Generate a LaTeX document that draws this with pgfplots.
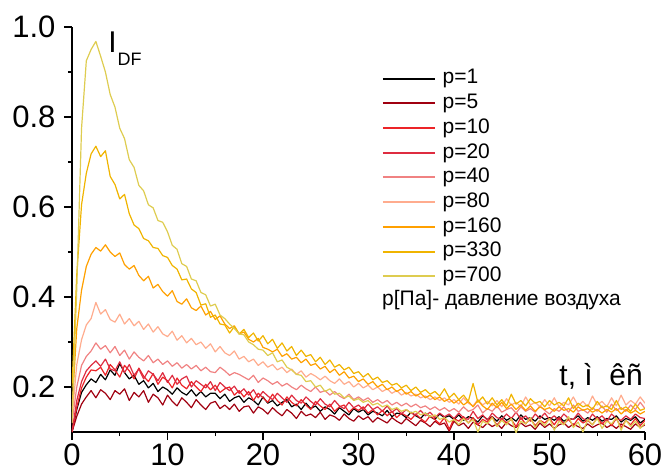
\documentclass[border=0pt]{standalone}
\usepackage{fontspec}
\setmainfont{Liberation Sans}
\usepackage{pgfplots}
\usepackage{pgfplotstable}
\pgfplotsset{compat=1.18}
\definecolor{c1}{RGB}{0,0,0}
\definecolor{c5}{RGB}{160,0,16}
\definecolor{c10}{RGB}{236,36,40}
\definecolor{c20}{RGB}{222,44,64}
\definecolor{c40}{RGB}{240,130,130}
\definecolor{c80}{RGB}{255,172,142}
\definecolor{c160}{RGB}{255,160,0}
\definecolor{c330}{RGB}{240,180,0}
\definecolor{c700}{RGB}{222,204,80}
\pgfplotstableread{
t a b c d e f g h i
0 0.100 0.100 0.100 0.100 0.120 0.130 0.150 0.200 0.120
0.5 0.150 0.135 0.155 0.170 0.200 0.250 0.330 0.450 0.420
1 0.188 0.162 0.198 0.212 0.248 0.305 0.415 0.605 0.775
1.5 0.205 0.178 0.222 0.236 0.268 0.338 0.468 0.675 0.925
2 0.218 0.192 0.238 0.248 0.280 0.352 0.495 0.718 0.950
2.5 0.210 0.176 0.236 0.258 0.298 0.388 0.510 0.735 0.968
3 0.228 0.194 0.244 0.246 0.284 0.362 0.502 0.712 0.935
3.5 0.216 0.186 0.226 0.262 0.292 0.372 0.516 0.725 0.900
4 0.238 0.172 0.250 0.240 0.276 0.350 0.500 0.668 0.850
4.5 0.226 0.192 0.238 0.236 0.290 0.344 0.490 0.650 0.822
5 0.252 0.184 0.222 0.256 0.270 0.362 0.498 0.618 0.775
5.5 0.232 0.196 0.248 0.232 0.282 0.340 0.472 0.628 0.752
6 0.218 0.170 0.236 0.250 0.262 0.352 0.462 0.585 0.705
6.5 0.226 0.188 0.218 0.226 0.278 0.336 0.470 0.560 0.688
7 0.206 0.178 0.242 0.240 0.266 0.346 0.448 0.552 0.648
7.5 0.214 0.192 0.224 0.218 0.258 0.328 0.436 0.530 0.636
8 0.198 0.166 0.212 0.236 0.270 0.340 0.446 0.525 0.605
8.5 0.208 0.184 0.230 0.228 0.254 0.322 0.420 0.510 0.598
9 0.190 0.176 0.206 0.214 0.262 0.334 0.428 0.508 0.570
9.5 0.200 0.160 0.222 0.232 0.250 0.318 0.412 0.492 0.566
10 0.194 0.182 0.214 0.210 0.258 0.312 0.402 0.488 0.545
10.5 0.184 0.168 0.198 0.226 0.246 0.324 0.414 0.470 0.515
11 0.198 0.158 0.220 0.206 0.254 0.304 0.390 0.462 0.506
11.5 0.188 0.176 0.204 0.218 0.242 0.314 0.384 0.438 0.474
12 0.182 0.166 0.196 0.224 0.250 0.298 0.396 0.440 0.468
12.5 0.194 0.154 0.212 0.200 0.240 0.308 0.376 0.418 0.440
13 0.180 0.172 0.200 0.214 0.248 0.294 0.370 0.410 0.436
13.5 0.190 0.160 0.190 0.206 0.236 0.300 0.380 0.382 0.410
14 0.178 0.150 0.206 0.198 0.244 0.286 0.360 0.385 0.405
14.5 0.186 0.164 0.194 0.212 0.234 0.296 0.368 0.355 0.380
15 0.186 0.168 0.204 0.192 0.232 0.278 0.350 0.360 0.384
15.5 0.174 0.152 0.188 0.210 0.244 0.290 0.358 0.340 0.360
16 0.184 0.160 0.196 0.200 0.236 0.276 0.340 0.338 0.352
16.5 0.168 0.150 0.200 0.192 0.226 0.270 0.330 0.320 0.340
17 0.176 0.162 0.182 0.202 0.232 0.280 0.336 0.334 0.330
17.5 0.180 0.146 0.192 0.186 0.228 0.262 0.318 0.318 0.318
18 0.166 0.156 0.178 0.196 0.222 0.268 0.322 0.328 0.316
18.5 0.176 0.158 0.190 0.182 0.216 0.256 0.306 0.310 0.300
19 0.170 0.142 0.170 0.194 0.226 0.262 0.300 0.320 0.294
19.5 0.160 0.156 0.186 0.176 0.210 0.248 0.308 0.302 0.284
20 0.178 0.150 0.176 0.190 0.220 0.256 0.288 0.314 0.282
20.5 0.164 0.140 0.166 0.180 0.214 0.244 0.284 0.296 0.270
21 0.170 0.154 0.184 0.172 0.206 0.250 0.278 0.306 0.276
21.5 0.158 0.144 0.170 0.186 0.212 0.238 0.284 0.286 0.256
22 0.166 0.136 0.160 0.176 0.202 0.244 0.268 0.298 0.260
22.5 0.172 0.150 0.178 0.166 0.208 0.232 0.274 0.280 0.244
23 0.156 0.142 0.166 0.182 0.200 0.240 0.262 0.290 0.238
23.5 0.162 0.130 0.158 0.170 0.194 0.228 0.266 0.270 0.228
24 0.150 0.146 0.172 0.164 0.204 0.236 0.254 0.282 0.226
24.5 0.164 0.136 0.160 0.178 0.196 0.222 0.262 0.268 0.212
25 0.152 0.140 0.150 0.168 0.190 0.230 0.248 0.272 0.214
25.5 0.158 0.132 0.168 0.160 0.200 0.224 0.252 0.256 0.200
26 0.146 0.144 0.158 0.174 0.188 0.216 0.240 0.266 0.204
26.5 0.156 0.128 0.150 0.162 0.192 0.224 0.246 0.250 0.190
27 0.150 0.138 0.162 0.156 0.182 0.214 0.232 0.260 0.196
27.5 0.140 0.134 0.146 0.170 0.190 0.208 0.240 0.244 0.184
28 0.154 0.126 0.156 0.158 0.180 0.218 0.226 0.250 0.186
28.5 0.146 0.140 0.160 0.152 0.174 0.206 0.234 0.238 0.176
29 0.138 0.130 0.144 0.166 0.184 0.212 0.220 0.244 0.180
29.5 0.152 0.124 0.154 0.154 0.172 0.200 0.224 0.230 0.170
30 0.144 0.136 0.148 0.160 0.178 0.208 0.212 0.234 0.174
30.5 0.150 0.128 0.156 0.150 0.170 0.198 0.218 0.222 0.166
31 0.138 0.134 0.142 0.162 0.176 0.204 0.206 0.230 0.170
31.5 0.146 0.122 0.150 0.150 0.166 0.194 0.212 0.216 0.160
32 0.142 0.132 0.138 0.156 0.172 0.200 0.200 0.222 0.164
32.5 0.136 0.126 0.148 0.146 0.164 0.190 0.206 0.210 0.156
33 0.148 0.120 0.136 0.158 0.170 0.196 0.194 0.214 0.160
33.5 0.134 0.132 0.146 0.144 0.160 0.186 0.200 0.204 0.150
34 0.142 0.124 0.132 0.152 0.166 0.192 0.190 0.208 0.154
34.5 0.140 0.118 0.142 0.140 0.158 0.182 0.196 0.198 0.146
35 0.132 0.130 0.136 0.150 0.164 0.188 0.184 0.204 0.150
35.5 0.144 0.122 0.128 0.142 0.156 0.180 0.190 0.192 0.142
36 0.136 0.114 0.140 0.138 0.162 0.184 0.180 0.200 0.146
36.5 0.130 0.126 0.130 0.148 0.154 0.176 0.186 0.188 0.138
37 0.142 0.120 0.122 0.136 0.158 0.180 0.176 0.194 0.142
37.5 0.134 0.112 0.136 0.144 0.150 0.172 0.182 0.184 0.134
38 0.128 0.124 0.128 0.132 0.156 0.178 0.172 0.190 0.138
38.5 0.140 0.116 0.118 0.142 0.148 0.170 0.178 0.180 0.128
39 0.132 0.120 0.132 0.134 0.154 0.176 0.168 0.196 0.132
39.5 0.136 0.102 0.106 0.140 0.146 0.166 0.174 0.176 0.122
40 0.128 0.124 0.130 0.130 0.152 0.172 0.164 0.186 0.128
40.5 0.138 0.114 0.124 0.142 0.144 0.162 0.172 0.172 0.116
41 0.126 0.120 0.134 0.132 0.156 0.176 0.160 0.182 0.130
41.5 0.134 0.108 0.120 0.128 0.146 0.164 0.168 0.168 0.120
42 0.130 0.122 0.132 0.146 0.150 0.158 0.156 0.208 0.128
42.5 0.122 0.116 0.116 0.130 0.160 0.172 0.170 0.166 0.100
43 0.136 0.110 0.128 0.138 0.142 0.160 0.158 0.178 0.124
43.5 0.128 0.120 0.122 0.126 0.152 0.168 0.150 0.162 0.118
44 0.134 0.112 0.134 0.142 0.146 0.158 0.164 0.176 0.132
44.5 0.124 0.118 0.114 0.132 0.158 0.170 0.154 0.160 0.112
45 0.136 0.108 0.130 0.128 0.144 0.156 0.166 0.172 0.126
45.5 0.126 0.122 0.120 0.140 0.150 0.174 0.152 0.158 0.116
46 0.132 0.114 0.128 0.130 0.154 0.160 0.162 0.184 0.130
46.5 0.124 0.110 0.112 0.144 0.142 0.166 0.150 0.162 0.098
47 0.138 0.120 0.132 0.128 0.156 0.156 0.160 0.170 0.124
47.5 0.128 0.112 0.118 0.136 0.146 0.178 0.148 0.158 0.118
48 0.132 0.116 0.130 0.124 0.152 0.160 0.158 0.174 0.132
48.5 0.124 0.106 0.114 0.140 0.144 0.166 0.146 0.164 0.110
49 0.136 0.120 0.126 0.130 0.158 0.156 0.156 0.168 0.126
49.5 0.128 0.110 0.120 0.142 0.148 0.172 0.150 0.156 0.114
50 0.132 0.118 0.130 0.128 0.140 0.158 0.154 0.170 0.130
50.5 0.126 0.108 0.116 0.136 0.152 0.176 0.146 0.160 0.104
51 0.134 0.116 0.132 0.126 0.146 0.156 0.156 0.166 0.124
51.5 0.124 0.120 0.118 0.140 0.156 0.166 0.148 0.158 0.116
52 0.130 0.110 0.128 0.130 0.144 0.160 0.152 0.176 0.134
52.5 0.128 0.118 0.114 0.128 0.160 0.178 0.144 0.152 0.110
53 0.136 0.112 0.130 0.142 0.146 0.158 0.156 0.164 0.122
53.5 0.124 0.108 0.120 0.130 0.150 0.168 0.148 0.156 0.100
54 0.132 0.118 0.126 0.124 0.142 0.156 0.152 0.160 0.128
54.5 0.126 0.110 0.116 0.140 0.154 0.180 0.144 0.150 0.116
55 0.134 0.116 0.132 0.128 0.146 0.160 0.150 0.168 0.130
55.5 0.124 0.120 0.118 0.136 0.158 0.168 0.142 0.154 0.108
56 0.130 0.110 0.128 0.124 0.144 0.156 0.150 0.158 0.124
56.5 0.128 0.116 0.114 0.140 0.162 0.176 0.144 0.150 0.118
57 0.136 0.108 0.130 0.130 0.148 0.158 0.152 0.170 0.132
57.5 0.122 0.118 0.110 0.126 0.154 0.182 0.140 0.150 0.104
58 0.130 0.112 0.126 0.136 0.146 0.160 0.150 0.156 0.126
58.5 0.126 0.106 0.116 0.128 0.160 0.170 0.142 0.146 0.112
59 0.134 0.118 0.130 0.140 0.150 0.162 0.148 0.162 0.124
59.5 0.120 0.110 0.114 0.132 0.166 0.178 0.140 0.148 0.108
60 0.128 0.116 0.126 0.130 0.152 0.164 0.146 0.152 0.120
}\datatable
\begin{document}
\begin{tikzpicture}
\path[use as bounding box] (-72pt,-43pt) rectangle (598pt,432pt);
\begin{axis}[
  at={(0pt,0pt)}, anchor=south west,
  scale only axis, width=573pt, height=405pt,
  xmin=0, xmax=60, ymin=0.1, ymax=1.0,
  axis x line*=bottom, axis y line*=left,
  axis line style={line width=1.6pt, black},
  xtick={0,10,...,60}, minor xtick={5,15,...,55},
  ytick={0.2,0.4,0.6,0.8,1.0}, minor ytick={0.3,0.5,0.7,0.9},
  tick align=outside, major tick length=8pt, minor tick length=4pt,
  every tick/.style={black, line width=1.4pt},
  /pgf/number format/assume math mode=true,
  ticklabel style={font=\fontsize{31}{31}\selectfont},
  yticklabel style={xshift=-5pt, /pgf/number format/fixed, /pgf/number format/fixed zerofill, /pgf/number format/precision=1},
  legend style={draw=none, fill=none, at={(0.541,0.899)}, anchor=north west,
    font=\fontsize{21}{21}\selectfont, inner sep=0pt, outer sep=0pt, row sep=3.2pt,
    nodes={inner sep=1pt, text height=15pt, text depth=4.5pt}},
  legend cell align=left,
  legend image code/.code={\draw[#1, line width=2pt] (0pt,0pt) -- (52pt,0pt); \path (58pt,0pt);},
  every axis plot/.append style={line width=1.2pt, line join=round},
]
\addplot[c1] table[x=t, y=a] {\datatable};
\addlegendentry{p=1}
\addplot[c5] table[x=t, y=b] {\datatable};
\addlegendentry{p=5}
\addplot[c10] table[x=t, y=c] {\datatable};
\addlegendentry{p=10}
\addplot[c20] table[x=t, y=d] {\datatable};
\addlegendentry{p=20}
\addplot[c40] table[x=t, y=e] {\datatable};
\addlegendentry{p=40}
\addplot[c80] table[x=t, y=f] {\datatable};
\addlegendentry{p=80}
\addplot[c160] table[x=t, y=g] {\datatable};
\addlegendentry{p=160}
\addplot[c330] table[x=t, y=h] {\datatable};
\addlegendentry{p=330}
\addplot[c700] table[x=t, y=i] {\datatable};
\addlegendentry{p=700}
\node[anchor=west, inner sep=0pt, font=\fontsize{21}{21}\selectfont] at (rel axis cs:0.541,0.326) {p[Па]- давление воздуха};
\node[anchor=base west, inner sep=0pt] at (rel axis cs:0.063,0.936) {\fontsize{30}{30}\selectfont I\kern1pt\raisebox{-13pt}{\fontsize{18}{18}\selectfont DF}};
\node[anchor=base east, inner sep=0pt, font=\fontsize{30}{30}\selectfont] at (rel axis cs:0.9965,0.116) {t, ì \ êñ};
\end{axis}
\end{tikzpicture}
\end{document}
